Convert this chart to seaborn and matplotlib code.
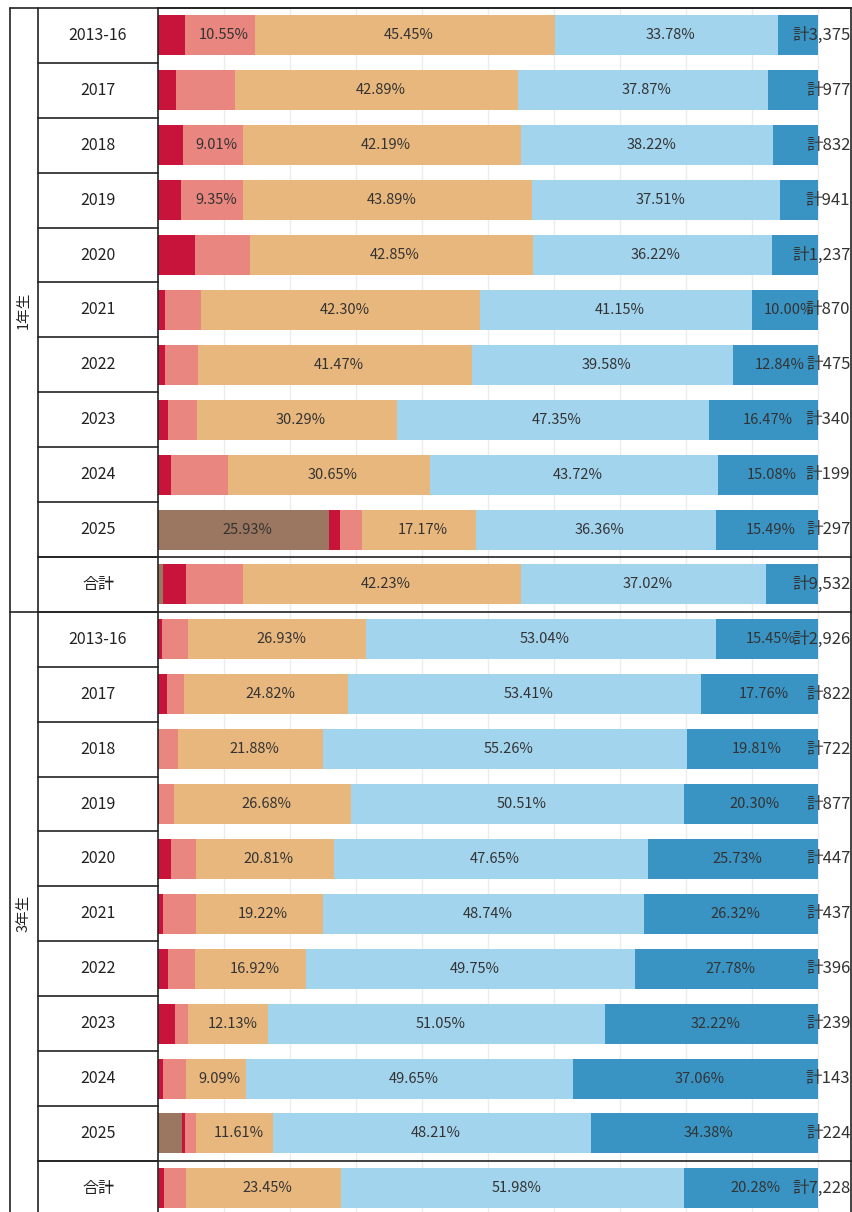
import numpy as np
import pandas as pd
import matplotlib
matplotlib.use("Agg")
import matplotlib.pyplot as plt
import seaborn as sns
from matplotlib import transforms
from matplotlib.lines import Line2D

# ---- data -------------------------------------------------------------
grades = ["1年生", "3年生"]
years = ["2013-16", "2017", "2018", "2019", "2020", "2021",
         "2022", "2023", "2024", "2025", "合計"]
categories = ["無回答", "1", "2", "3", "4", "5"]

# shares in percent, one list per answer category, one value per year row
g1_na     = [0, 0, 0, 0, 0, 0, 0, 0, 0, 25.93, 0.81]
g1_c1     = [4.09, 2.73, 3.80, 3.50, 5.60, 1.03, 1.05, 1.47, 2.01, 1.68, 3.40]
g1_c2     = [10.55, 8.94, 9.01, 9.35, 8.30, 5.52, 5.05, 4.41, 8.54, 3.37, 8.60]
g1_c3     = [45.45, 42.89, 42.19, 43.89, 42.85, 42.30, 41.47, 30.29, 30.65, 17.17, 42.23]
g1_c4     = [33.78, 37.87, 38.22, 37.51, 36.22, 41.15, 39.58, 47.35, 43.72, 36.36, 37.02]
g1_c5     = [6.13, 7.57, 6.78, 5.75, 7.03, 10.00, 12.84, 16.47, 15.08, 15.49, 7.94]
g1_totals = [3375, 977, 832, 941, 1237, 870, 475, 340, 199, 297, 9532]

g2_na     = [0, 0, 0, 0, 0, 0, 0, 0, 0, 3.57, 0.11]
g2_c1     = [0.60, 1.34, 0, 0.11, 2.01, 0.69, 1.52, 2.51, 0.70, 0.45, 0.75]
g2_c2     = [3.98, 2.67, 3.05, 2.39, 3.80, 5.03, 4.04, 2.09, 3.50, 1.79, 3.43]
g2_c3     = [26.93, 24.82, 21.88, 26.68, 20.81, 19.22, 16.92, 12.13, 9.09, 11.61, 23.45]
g2_c4     = [53.04, 53.41, 55.26, 50.51, 47.65, 48.74, 49.75, 51.05, 49.65, 48.21, 51.98]
g2_c5     = [15.45, 17.76, 19.81, 20.30, 25.73, 26.32, 27.78, 32.22, 37.06, 34.38, 20.28]
g2_totals = [2926, 822, 722, 877, 447, 437, 396, 239, 143, 224, 7228]

colors = ["#9b7660", "#c8143b", "#e8867f", "#e8b77d", "#a3d4ee", "#3994c4"]

# ---- long table -------------------------------------------------------
rows = []
for g, parts, totals in [
    (grades[0], [g1_na, g1_c1, g1_c2, g1_c3, g1_c4, g1_c5], g1_totals),
    (grades[1], [g2_na, g2_c1, g2_c2, g2_c3, g2_c4, g2_c5], g2_totals),
]:
    for i, y in enumerate(years):
        rec = {"grade": g, "year": y, "key": f"{g}|{y}", "total": totals[i]}
        for c, vals in zip(categories, parts):
            rec[c] = vals[i]
        rows.append(rec)
df = pd.DataFrame(rows)
cum = df[categories].cumsum(axis=1)
for c in categories:
    df["cum_" + c] = cum[c]
order = df["key"].tolist()
n_rows = len(order)

# ---- figure -----------------------------------------------------------
sns.set_theme(style="white")
plt.rcParams["font.family"] = ["Noto Sans CJK JP", "DejaVu Sans"]

W, H = 853, 1212
fig = plt.figure(figsize=(W / 100, H / 100), dpi=100)
fig.patch.set_facecolor("white")

px_per_pct = 6.6
left_px, right_px, top_px = 158, 851, 8
row_h = 54.9
bottom_px = top_px + row_h * n_rows
ax = fig.add_axes([left_px / W, 1 - bottom_px / H,
                   (right_px - left_px) / W, (bottom_px - top_px) / H])

# stacked bars: draw cumulative widths from the outermost segment inward
for c, col in reversed(list(zip(categories, colors))):
    sns.barplot(data=df, x="cum_" + c, y="key", order=order, orient="h",
                color=col, saturation=1, width=0.73, linewidth=0,
                errorbar=None, ax=ax)

ax.set_xlim(0, (right_px - left_px) / px_per_pct)
ax.set_ylim(n_rows - 0.5, -0.5)
ax.set_xticks(np.arange(10, 101, 10))
ax.grid(axis="x", color="#ececec", linewidth=1)
ax.grid(axis="y", visible=False)
ax.set_axisbelow(True)
ax.tick_params(left=False, bottom=False, labelleft=False, labelbottom=False)
ax.set_xlabel("")
ax.set_ylabel("")
for s in ["left", "right", "top"]:
    ax.spines[s].set_color("#222222")
    ax.spines[s].set_linewidth(1.2)
ax.spines["bottom"].set_visible(False)

right_edge = transforms.blended_transform_factory(ax.transAxes, ax.transData)

# segment value labels and row totals
for i, r in df.iterrows():
    start = 0.0
    for c in categories:
        v = r[c]
        if v >= 9:
            ax.text(start + v / 2 + 0.6, i, f"{v:.2f}%", ha="center", va="center",
                    fontsize=10.5, color="#333333")
        start += v
    ax.text(0.999, i, f"計{r['total']:,}", transform=right_edge,
            ha="right", va="center", fontsize=12, color="#333333")

# ---- table frame and row headers -------------------------------------
bt = transforms.blended_transform_factory(fig.transFigure, ax.transData)


def hline(x0, x1, y):
    fig.add_artist(Line2D([x0 / W, x1 / W], [y, y], transform=bt,
                          color="#222222", linewidth=1.2, clip_on=False))


def vline(x, y0, y1):
    fig.add_artist(Line2D([x / W, x / W], [y0, y1], transform=bt,
                          color="#222222", linewidth=1.2, clip_on=False))


vline(10, -0.5, n_rows - 0.5)
vline(38, -0.5, n_rows - 0.5)
hline(10, right_px, -0.5)
for k in range(1, n_rows):
    hline(38, left_px, k - 0.5)
hline(10, right_px, len(years) - 0.5)
hline(38, right_px, len(years) - 1.5)
hline(38, right_px, 2 * len(years) - 1.5)

for i, r in df.iterrows():
    fig.text(98 / W, i, r["year"], transform=bt, ha="center", va="center",
             fontsize=11.5, color="#222222")

for gi, g in enumerate(grades):
    yc = gi * len(years) + (len(years) - 1) / 2
    fig.text(24 / W, yc, g, transform=bt, ha="center", va="center",
             rotation=90, fontsize=10.5, color="#222222")

fig.savefig("out.png", dpi=100, facecolor="white")
